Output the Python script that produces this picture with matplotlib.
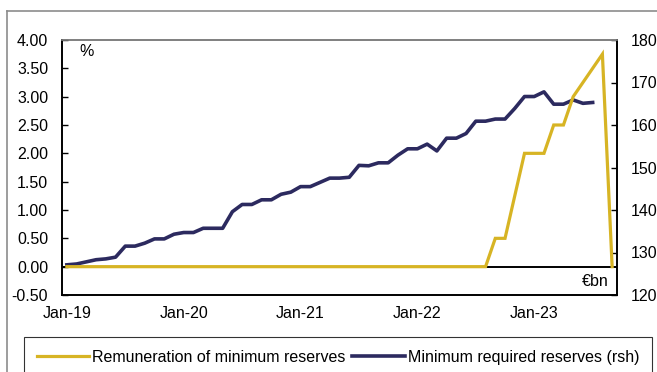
import matplotlib
matplotlib.use("Agg")
import matplotlib.pyplot as plt
from matplotlib.lines import Line2D
import numpy as np

plt.rcParams['font.family'] = ['Liberation Sans', 'DejaVu Sans']

# Monthly categories Jan-19 .. Sep-23 (57 months)
tick_labels = ["Jan-19", "Jan-20", "Jan-21", "Jan-22", "Jan-23"]
tick_index = [0, 12, 24, 36, 48]

remuneration = [0.0] * 44 + [0.5, 0.5, 1.25, 2.0, 2.0, 2.0, 2.5, 2.5, 3.0, 3.25, 3.5, 3.75, 0.0]

min_reserves = [127.1, 127.3, 127.8, 128.3, 128.5, 128.9, 131.5, 131.5, 132.2, 133.2,
                133.2, 134.3, 134.7, 134.7, 135.7, 135.7, 135.7, 139.6, 141.3, 141.3,
                142.4, 142.4, 143.7, 144.2, 145.5, 145.5, 146.5, 147.5, 147.5, 147.7,
                150.5, 150.4, 151.1, 151.1, 152.9, 154.4, 154.4, 155.5, 153.9, 156.9,
                156.9, 158.0, 160.9, 160.9, 161.4, 161.4, 163.9, 166.7, 166.7, 167.8,
                164.9, 164.9, 165.9, 165.1, 165.3]

YELLOW = "#D7B424"
NAVY = "#2C2A5F"
FS = 11.5

fig = plt.figure(figsize=(6.57, 3.72), dpi=100)
ax = fig.add_axes([62/657, 77/372, 555/657, 255/372])
ax2 = ax.twinx()

x_rem = np.arange(len(remuneration))
x_res = np.arange(len(min_reserves))

ax2.plot(x_res, min_reserves, color=NAVY, lw=2.6, solid_joinstyle='round', zorder=3)
ax.axhline(0, color='black', lw=1.4, zorder=1)
ax.plot(x_rem, remuneration, color=YELLOW, lw=2.3, solid_joinstyle='miter', zorder=3)

ax.set_zorder(ax2.get_zorder() + 1)
ax.patch.set_visible(False)

ax.set_xlim(-0.5, 56.5)
ax.set_ylim(-0.5, 4.0)
ax.set_yticks(np.arange(-0.5, 4.01, 0.5))
ax.set_yticklabels([f"{v:.2f}" for v in np.arange(-0.5, 4.01, 0.5)])
ax2.set_ylim(120, 180)
ax2.set_yticks(np.arange(120, 181, 10))
ax2.set_yticklabels([str(v) for v in range(120, 181, 10)])

ax.set_xticks(tick_index)
ax.set_xticklabels(tick_labels)
ax.tick_params(axis='x', length=0, pad=8, labelsize=FS, colors='black')
ax.tick_params(axis='y', direction='in', length=4, width=1, pad=10, labelsize=FS)
ax2.tick_params(axis='y', direction='in', length=4, width=1, pad=10, labelsize=FS)

for a in (ax, ax2):
    a.spines['top'].set_color('#7f7f7f')
    a.spines['top'].set_linewidth(1.2)
    for s in ('left', 'right', 'bottom'):
        a.spines[s].set_color('black')
        a.spines[s].set_linewidth(1.2)

ax.text(0.045, 0.953, "%", transform=ax.transAxes, ha='center', va='center', fontsize=FS)
ax.text(0.96, 0.051, "€bn", transform=ax.transAxes, ha='center', va='center', fontsize=FS)

# outer frame
fig.add_artist(Line2D([7/657, 7/657], [0, 1 - 11/372], transform=fig.transFigure,
                      color='#8c8c8c', lw=1.2))
fig.add_artist(Line2D([7/657, 1], [1 - 11/372, 1 - 11/372], transform=fig.transFigure,
                      color='#8c8c8c', lw=1.2))

handles = [Line2D([], [], color=YELLOW, lw=2.3), Line2D([], [], color=NAVY, lw=2.6)]
leg = fig.legend(handles, ["Remuneration of minimum reserves", "Minimum required reserves (rsh)"],
                 loc='upper left', bbox_to_anchor=(24/657, 1 - 337/372), ncol=2,
                 frameon=True, fancybox=False, edgecolor='black', fontsize=FS,
                 handlelength=3.3, handletextpad=0.15, columnspacing=0.45,
                 borderpad=0.8, borderaxespad=0)
leg.get_frame().set_linewidth(0.8)

fig.savefig("out.png", dpi=100)
